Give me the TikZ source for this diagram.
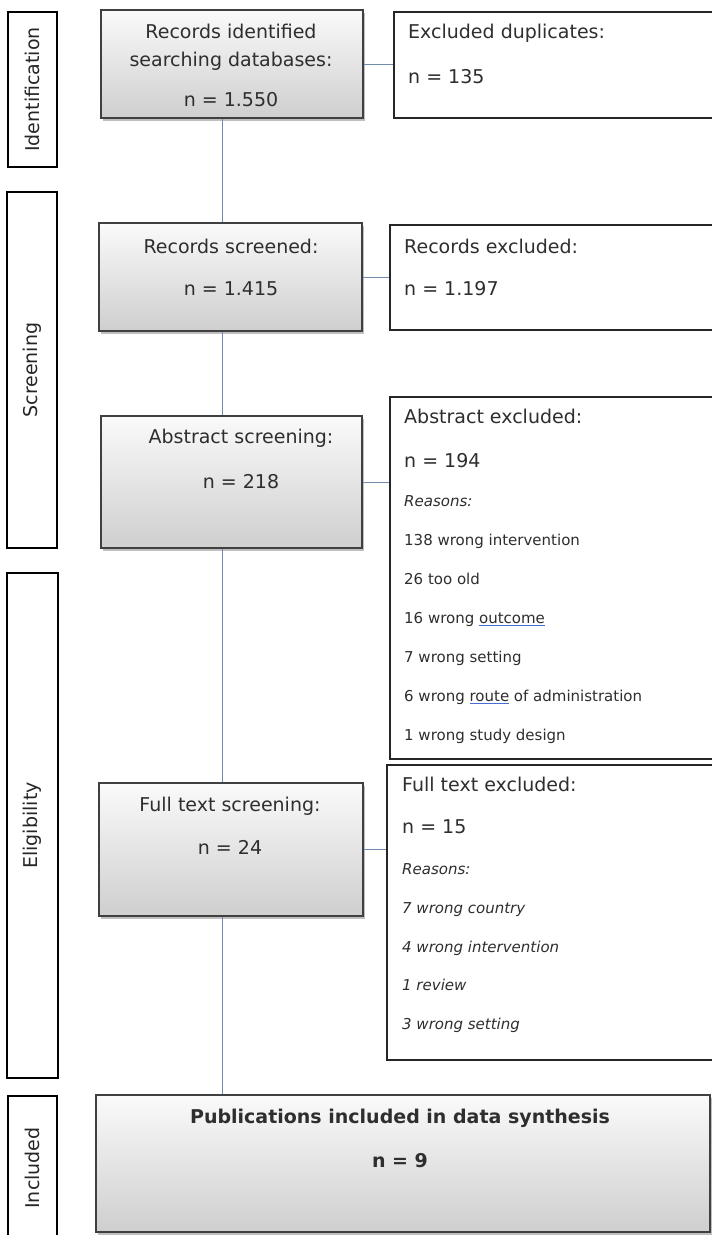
\documentclass[tikz,border=0pt]{standalone}
\usepackage{fontspec}
\setmainfont{DejaVu Sans}
\usetikzlibrary{shadows}
\definecolor{linkblue}{RGB}{112,140,172}
\definecolor{markblue}{RGB}{70,110,210}
\newcommand{\bigtxt}{\fontsize{19}{23}\selectfont}
\newcommand{\smalltxt}{\fontsize{15}{18}\selectfont}
\newcommand{\wordmark}[1]{\setbox0\hbox{#1}\rlap{\textcolor{markblue}{\rule[-3pt]{\wd0}{0.7pt}}}\box0\relax}
\tikzset{
  stepbox/.style={draw=black!75,line width=1.6pt,top color=gray!4,bottom color=gray!38,
    drop shadow={shadow xshift=2pt,shadow yshift=-2.5pt,opacity=0.5},inner sep=0pt},
  outbox/.style={draw=black!85,line width=1.3pt,fill=white,inner sep=0pt},
  phasebox/.style={draw=black,line width=1.3pt,fill=white,inner sep=0pt,rotate=90,font=\bigtxt,text=black!85},
  link/.style={draw=linkblue,line width=1pt},
  ttl/.style={font=\bigtxt,text=black!82,anchor=base,inner sep=0pt},
  ttlw/.style={ttl,anchor=base west},
  why/.style={font=\smalltxt\itshape,text=black!82,anchor=base west,inner sep=0pt},
  whyup/.style={font=\smalltxt,text=black!82,anchor=base west,inner sep=0pt}
}
\begin{document}
\begin{tikzpicture}[x=1pt,y=-1pt]
\useasboundingbox (0,0) rectangle (712,1235);
\clip (0,0) rectangle (712,1235);
% phases
\node[phasebox,minimum width=155pt,minimum height=49pt] (idf) at (32.5,89.5) {Identification};
\node[phasebox,minimum width=356pt,minimum height=50pt] (scrph) at (32,370) {Screening};
\node[phasebox,minimum width=505pt,minimum height=51pt] (elig) at (32.5,825.5) {Eligibility};
\node[phasebox,minimum width=144pt,minimum height=49pt] (incph) at (32.5,1168) {Included};
% main boxes
\node[stepbox,minimum width=262pt,minimum height=108pt] (rec) at (232,64) {};
\node[ttl] (rec-a) at (231,38.5) {Records identified};
\node[ttl] (rec-b) at (231,66.5) {searching databases:};
\node[ttl] (rec-n) at (231,106.5) {n = 1.550};
\node[stepbox,minimum width=263pt,minimum height=108pt] (scr) at (230.5,277) {};
\node[ttl] (scr-a) at (231,253.5) {Records screened:};
\node[ttl] (scr-n) at (231,295.5) {n = 1.415};
\node[stepbox,minimum width=261pt,minimum height=132pt] (abs) at (231.5,482) {};
\node[ttl] (abs-a) at (241,443.5) {Abstract screening:};
\node[ttl] (abs-n) at (241,488.5) {n = 218};
\node[stepbox,minimum width=264pt,minimum height=133pt] (full) at (231,849.5) {};
\node[ttl] (full-a) at (230,811.5) {Full text screening:};
\node[ttl] (full-n) at (230,854.5) {n = 24};
\node[stepbox,minimum width=614pt,minimum height=137pt] (inc) at (403,1163.5) {};
\node[ttl,font=\bigtxt\bfseries] (inc-a) at (400,1123.5) {Publications included in data synthesis};
\node[ttl,font=\bigtxt\bfseries] (inc-n) at (400,1167.5) {n = 9};
% exclusion boxes
\node[outbox,minimum width=326pt,minimum height=106pt] (dup) at (557,65) {};
\node[ttlw] (dup-a) at (408,38.5) {Excluded duplicates:};
\node[ttlw] (dup-n) at (408,83.5) {n = 135};
\node[outbox,minimum width=330pt,minimum height=105pt] (recx) at (555,277.5) {};
\node[ttlw] (recx-a) at (404,253.5) {Records excluded:};
\node[ttlw] (recx-n) at (404,295.5) {n = 1.197};
\node[outbox,minimum width=330pt,minimum height=362pt] (absx) at (555,578) {};
\node[ttlw] (absx-a) at (404,423.5) {Abstract excluded:};
\node[ttlw] (absx-n) at (404,467.5) {n = 194};
\node[why] (absx-r) at (404,506) {Reasons:};
\node[whyup] (absx-1) at (404,545) {138 wrong intervention};
\node[whyup] (absx-2) at (404,584) {26 too old};
\node[whyup] (absx-3) at (404,623) {16 wrong \wordmark{outcome}};
\node[whyup] (absx-4) at (404,662) {7 wrong setting};
\node[whyup] (absx-5) at (404,701) {6 wrong \wordmark{route} of administration};
\node[whyup] (absx-6) at (404,740) {1 wrong study design};
\node[outbox,minimum width=333pt,minimum height=295pt] (fullx) at (553.5,912.5) {};
\node[ttlw] (fullx-a) at (402,791.5) {Full text excluded:};
\node[ttlw] (fullx-n) at (402,833.5) {n = 15};
\node[why] (fullx-r) at (402,874) {Reasons:};
\node[why] (fullx-1) at (402,913) {7 wrong country};
\node[why] (fullx-2) at (402,952) {4 wrong intervention};
\node[why] (fullx-3) at (402,990) {1 review};
\node[why] (fullx-4) at (402,1029) {3 wrong setting};
% connectors
\coordinate (trunk) at (222,0);
\draw[link] (rec.south -| trunk) -- (scr.north -| trunk);
\draw[link] (scr.south -| trunk) -- (abs.north -| trunk);
\draw[link] (abs.south -| trunk) -- (full.north -| trunk);
\draw[link] (full.south -| trunk) -- (inc.north -| trunk);
\draw[link] (rec.east) -- (rec.east -| dup.west);
\draw[link] (scr.east) -- (scr.east -| recx.west);
\draw[link] (abs.east) -- (abs.east -| absx.west);
\draw[link] (full.east) -- (full.east -| fullx.west);
\end{tikzpicture}
\end{document}
